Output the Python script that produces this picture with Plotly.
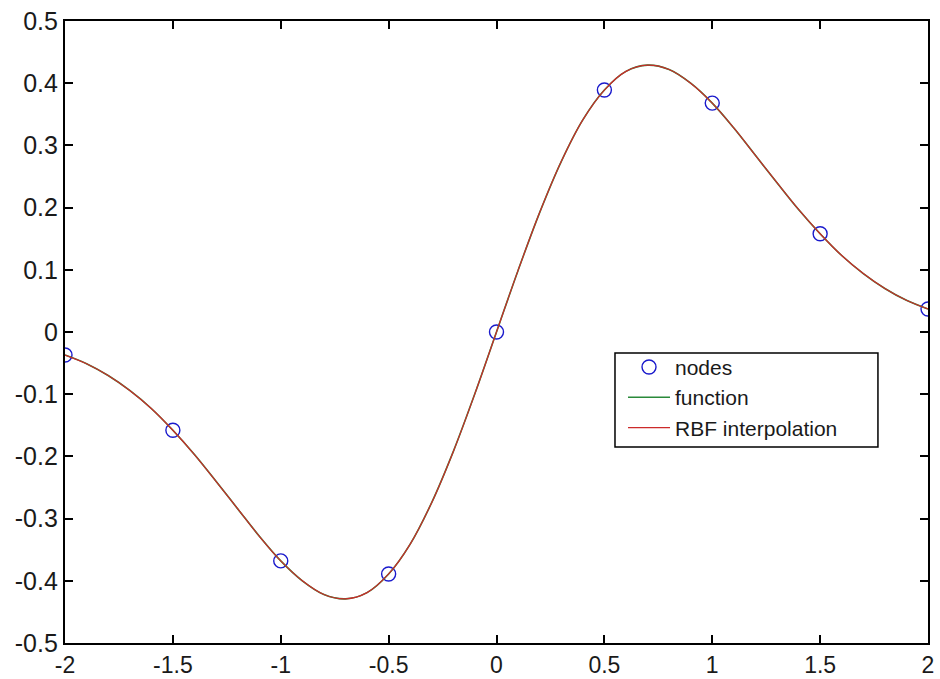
import plotly.graph_objects as go

node_x = [-2.0, -1.5, -1.0, -0.5, 0.0, 0.5, 1.0, 1.5, 2.0]
node_y = [-0.037, -0.158, -0.368, -0.389, 0.0, 0.389, 0.368, 0.158, 0.037]

curve_x = [-2.0, -1.9, -1.8, -1.7, -1.6, -1.5, -1.4, -1.3, -1.2, -1.1, -1.0,
           -0.9, -0.8, -0.7, -0.6, -0.5, -0.4, -0.3, -0.2, -0.1, 0.0,
           0.1, 0.2, 0.3, 0.4, 0.5, 0.6, 0.7, 0.8, 0.9, 1.0,
           1.1, 1.2, 1.3, 1.4, 1.5, 1.6, 1.7, 1.8, 1.9, 2.0]
func_y = [-0.037, -0.051, -0.070, -0.094, -0.123, -0.158, -0.197, -0.240, -0.284, -0.328, -0.368,
          -0.400, -0.422, -0.429, -0.419, -0.389, -0.341, -0.274, -0.192, -0.099, 0.0,
          0.099, 0.192, 0.274, 0.341, 0.389, 0.419, 0.429, 0.422, 0.400, 0.368,
          0.328, 0.284, 0.240, 0.197, 0.158, 0.123, 0.094, 0.070, 0.051, 0.037]
rbf_y = [-0.037, -0.051, -0.070, -0.094, -0.123, -0.158, -0.197, -0.240, -0.284, -0.328, -0.368,
         -0.400, -0.422, -0.429, -0.419, -0.389, -0.341, -0.274, -0.192, -0.099, 0.0,
         0.099, 0.192, 0.274, 0.341, 0.389, 0.419, 0.429, 0.422, 0.400, 0.368,
         0.328, 0.284, 0.240, 0.197, 0.158, 0.123, 0.094, 0.070, 0.051, 0.037]

x_ticks = [-2, -1.5, -1, -0.5, 0, 0.5, 1, 1.5, 2]
x_labels = ["-2", "-1.5", "-1", "-0.5", "0", "0.5", "1", "1.5", "2"]
y_ticks = [-0.5, -0.4, -0.3, -0.2, -0.1, 0, 0.1, 0.2, 0.3, 0.4, 0.5]
y_labels = ["-0.5", "-0.4", "-0.3", "-0.2", "-0.1", "0", "0.1", "0.2", "0.3", "0.4", "0.5"]

fig = go.Figure()
fig.add_trace(go.Scatter(x=node_x, y=node_y, mode="markers", name="nodes",
                         marker=dict(symbol="circle-open", size=14, color="#1a1acc",
                                     line=dict(width=1.4, color="#1a1acc"))))
fig.add_trace(go.Scatter(x=curve_x, y=func_y, mode="lines", name="function",
                         line=dict(color="#2a8a3a", width=1.6, shape="spline")))
fig.add_trace(go.Scatter(x=curve_x, y=rbf_y, mode="lines", name="RBF interpolation",
                         line=dict(color="#cc2a2a", width=1.2, shape="spline")))

axis_common = dict(showline=True, linecolor="black", linewidth=2.2, mirror="ticks",
                   ticks="inside", ticklen=8, tickwidth=2.2, tickcolor="black",
                   showgrid=False, zeroline=False, automargin=False)

tick_font_y = dict(family="Liberation Sans, Arial, sans-serif", size=25, color="#1a1a1a")
tick_font_x = dict(family="Liberation Sans, Arial, sans-serif", size=23, color="#1a1a1a")

# legend frame (drawn as a box behind the legend entries)
fig.add_shape(type="rect", xref="paper", yref="paper",
              x0=0.6373, x1=0.942, y0=0.3151, y1=0.4662,
              line=dict(color="black", width=1.5), fillcolor="white", layer="above")

fig.update_layout(
    width=940, height=679,
    margin=dict(l=65, r=12, t=21, b=36),
    paper_bgcolor="white", plot_bgcolor="white",
    xaxis=dict(range=[-2, 2], tickvals=x_ticks, ticktext=x_labels, ticklabelstandoff=0,
               tickfont=tick_font_x, **axis_common),
    yaxis=dict(range=[-0.5, 0.5], tickvals=y_ticks, ticktext=y_labels,
               tickfont=tick_font_y, **axis_common),
    legend=dict(x=0.6466, y=0.395, xanchor="left", yanchor="middle",
                bgcolor="rgba(0,0,0,0)", borderwidth=0,
                font=dict(family="Liberation Sans, Arial, sans-serif", size=21, color="#1a1a1a"),
                itemwidth=42),
    showlegend=True,
)

fig.write_html("out.html")
